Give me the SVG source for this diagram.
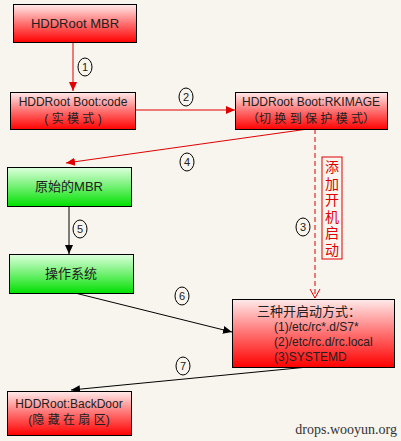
<svg xmlns="http://www.w3.org/2000/svg" width="401" height="441" viewBox="0 0 401 441">
<defs>
<linearGradient id="gr" x1="0" y1="0" x2="0" y2="1"><stop offset="0" stop-color="#ffeaea"/><stop offset="0.5" stop-color="#ff7070"/><stop offset="1" stop-color="#ff0000"/></linearGradient>
<linearGradient id="gg" x1="0" y1="0" x2="0" y2="1"><stop offset="0" stop-color="#dcffdc"/><stop offset="0.5" stop-color="#70f070"/><stop offset="1" stop-color="#00e000"/></linearGradient>
<marker id="ar" markerWidth="10" markerHeight="10" refX="9" refY="5" orient="auto" markerUnits="userSpaceOnUse"><path d="M0,1 L9,5 L0,9 Z" fill="#e00000"/></marker>
<marker id="ab" markerWidth="10" markerHeight="10" refX="9" refY="5" orient="auto" markerUnits="userSpaceOnUse"><path d="M0,1 L9,5 L0,9 Z" fill="#000"/></marker>
<marker id="av" markerWidth="10" markerHeight="12" refX="9" refY="6" orient="auto" markerUnits="userSpaceOnUse"><path d="M0,1 L9,6 L0,11" fill="none" stroke="#e00000" stroke-width="1"/></marker>
</defs>
<style>
text{font-family:"Liberation Sans","Noto Sans CJK SC",sans-serif;font-size:12px;fill:#202020}
.c{text-anchor:middle}
.n rect{stroke:#000;stroke-width:1}
.num ellipse{fill:#f8f5ef;stroke:#000;stroke-width:1}
.num text{font-size:11px;text-anchor:middle}
.red{stroke:#e00000;fill:none;stroke-width:1}
.blk{stroke:#000;fill:none;stroke-width:1}
.v{font-size:14px;fill:#e00000;text-anchor:middle}
</style>
<rect width="401" height="441" fill="#f8f5ef"/>
<g id="connectors">
<line class="red" x1="73" y1="42" x2="73" y2="91" marker-end="url(#ar)"/>
<line class="red" x1="136" y1="110" x2="235" y2="110" marker-end="url(#ar)"/>
<line class="red" x1="308" y1="129" x2="66" y2="163" marker-end="url(#ar)"/>
<line class="red" x1="315" y1="129" x2="315" y2="298" stroke-dasharray="5,3" marker-end="url(#av)"/>
<line class="blk" x1="69" y1="206" x2="69" y2="254" marker-end="url(#ab)"/>
<line class="blk" x1="75" y1="293" x2="232" y2="332" marker-end="url(#ab)"/>
<line class="blk" x1="308" y1="367" x2="71" y2="390" marker-end="url(#ab)"/>
<g class="num">
<ellipse cx="85" cy="67" rx="7" ry="9"/><text x="85" y="71">1</text>
<ellipse cx="186" cy="97" rx="7" ry="9"/><text x="186" y="101">2</text>
<ellipse cx="303" cy="227" rx="7" ry="9"/><text x="303" y="231">3</text>
<ellipse cx="187" cy="162" rx="7" ry="9"/><text x="187" y="166">4</text>
<ellipse cx="80" cy="229" rx="7" ry="9"/><text x="80" y="233">5</text>
<ellipse cx="182" cy="296" rx="7" ry="9"/><text x="182" y="300">6</text>
<ellipse cx="183" cy="366" rx="7" ry="9"/><text x="183" y="370">7</text>
</g>
<g id="label3">
<rect x="322" y="157" width="20" height="102" fill="none" stroke="#e00000"/>
<text x="332" y="172" class="v">添</text>
<text x="332" y="188.5" class="v">加</text>
<text x="332" y="205" class="v">开</text>
<text x="332" y="221.5" class="v">机</text>
<text x="332" y="238" class="v">启</text>
<text x="332" y="254.5" class="v">动</text>
</g>
</g>
<g id="n1" class="n"><rect x="13.5" y="4.5" width="123" height="38" fill="url(#gr)"/><text x="75" y="28" class="c" style="font-size:13px">HDDRoot MBR</text></g>
<g id="n2" class="n"><rect x="10.5" y="92.5" width="125" height="37" fill="url(#gr)"/><text x="73" y="106" class="c">HDDRoot Boot:code</text><text x="73" y="123" class="c">( 实 模 式 )</text></g>
<g id="n3" class="n"><rect x="235.5" y="92.5" width="152" height="37" fill="url(#gr)"/><text x="311" y="106" class="c">HDDRoot Boot:RKIMAGE</text><text x="311" y="123" class="c">（切 换 到 保 护 模 式）</text></g>
<g id="n4" class="n"><rect x="7.5" y="167.5" width="124" height="39" fill="url(#gg)"/><text x="69" y="191" class="c" style="font-size:13px">原始的MBR</text></g>
<g id="n5" class="n"><rect x="9.5" y="254.5" width="124" height="39" fill="url(#gg)"/><text x="71" y="278" class="c" style="font-size:13px">操作系统</text></g>
<g id="n6" class="n"><rect x="232.5" y="299.5" width="162" height="68" fill="url(#gr)"/><text x="309" y="316" class="c" style="font-size:13px">三种开启动方式：</text><text x="274" y="331">(1)/etc/rc*.d/S7*</text><text x="274" y="346">(2)/etc/rc.d/rc.local</text><text x="274" y="361">(3)SYSTEMD</text></g>
<g id="n7" class="n"><rect x="7.5" y="391.5" width="124" height="44" fill="url(#gr)"/><text x="69" y="408" class="c">HDDRoot:BackDoor</text><text x="69" y="424" class="c">(隐 藏 在 扇 区)</text></g>
<text x="397" y="434" style="font-family:'Liberation Serif',serif;font-size:14px;fill:#333;text-anchor:end">drops.wooyun.org</text>
</svg>
